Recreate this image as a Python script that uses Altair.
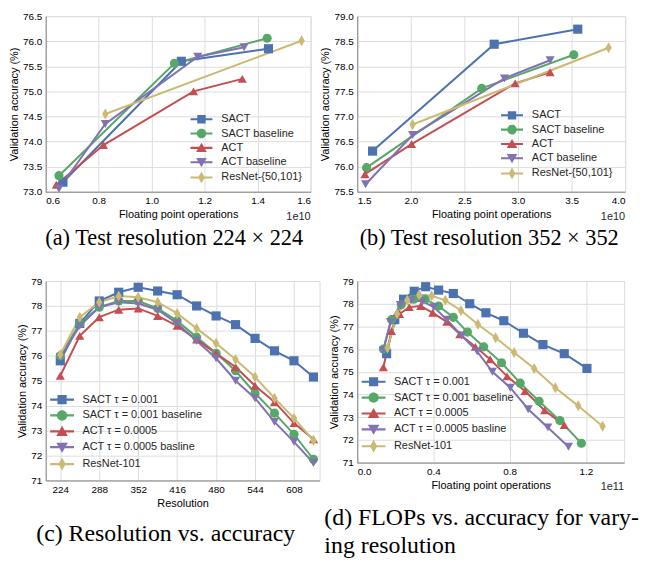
import altair as alt
import pandas as pd

# ---------------- data ----------------
SERIES_AB = ["SACT", "SACT baseline", "ACT", "ACT baseline", "ResNet-{50,101}"]
SERIES_CD = ["SACT τ = 0.001", "SACT τ = 0.001 baseline", "ACT τ = 0.0005",
             "ACT τ = 0.0005 basline", "ResNet-101"]

# (a) test resolution 224x224, FLOPs in units of 1e10
A_SACT_X = [0.665, 1.112, 1.441]
A_SACT_Y = [73.19, 75.60, 75.85]
A_SACTB_X = [0.650, 1.086, 1.436]
A_SACTB_Y = [73.32, 75.56, 76.06]
A_ACT_X = [0.640, 0.818, 1.158, 1.342]
A_ACT_Y = [73.14, 73.93, 75.00, 75.25]
A_ACTB_X = [0.650, 0.825, 1.174, 1.349]
A_ACTB_Y = [73.06, 74.35, 75.69, 75.88]
A_RES_X = [0.825, 1.566]
A_RES_Y = [74.55, 76.01]

# (b) test resolution 352x352, FLOPs in units of 1e10
B_SACT_X = [1.643, 2.778, 3.558]
B_SACT_Y = [76.31, 78.44, 78.74]
B_SACTB_X = [1.587, 2.662, 3.521]
B_SACTB_Y = [75.98, 77.56, 78.23]
B_ACT_X = [1.572, 2.007, 2.974, 3.300]
B_ACT_Y = [75.85, 76.45, 77.66, 77.88]
B_ACTB_X = [1.578, 2.017, 2.874, 3.300]
B_ACTB_Y = [75.65, 76.63, 77.76, 78.12]
B_RES_X = [2.017, 3.846]
B_RES_Y = [76.84, 78.37]

# (c) resolution vs accuracy
RESOLUTION = [224, 256, 288, 320, 352, 384, 416, 448, 480, 512, 544, 576, 608, 640]
C_SACT = [75.80, 77.30, 78.20, 78.55, 78.75, 78.60, 78.45, 78.00, 77.60, 77.25, 76.70, 76.20, 75.80, 75.15]
C_SACTB = [76.00, 77.30, 77.95, 78.20, 78.20, 77.90, 77.40, 76.75, 76.10, 75.40, 74.50, 73.70, 72.85, 71.85]
C_ACT = [75.20, 76.80, 77.55, 77.85, 77.90, 77.60, 77.20, 76.65, 76.10, 75.55, 74.80, 74.15, 73.30, 72.65]
C_ACTB = [75.95, 77.20, 77.95, 78.15, 78.10, 77.85, 77.30, 76.60, 75.90, 75.00, 74.30, 73.35, 72.55, 71.70]
C_RES = [76.05, 77.55, 78.15, 78.40, 78.35, 78.15, 77.70, 77.10, 76.50, 75.85, 75.15, 74.30, 73.50, 72.60]

# (d) FLOPs (units of 1e11) for varying resolution
D_SACT_X = [0.154, 0.197, 0.243, 0.299, 0.359, 0.427, 0.504, 0.590, 0.675, 0.769, 0.872, 0.974, 1.086, 1.205]
D_SACTB_X = [0.137, 0.180, 0.231, 0.296, 0.356, 0.427, 0.504, 0.578, 0.663, 0.757, 0.855, 0.954, 1.063, 1.176]
D_ACT_X = [0.137, 0.180, 0.222, 0.273, 0.333, 0.396, 0.470, 0.538, 0.620, 0.697, 0.786, 0.880, 0.983, 1.086]
D_ACTB_X = [0.137, 0.174, 0.226, 0.282, 0.342, 0.402, 0.470, 0.547, 0.629, 0.709, 0.803, 0.897, 1.000, 1.108]
D_RES_X = [0.159, 0.209, 0.262, 0.325, 0.390, 0.462, 0.544, 0.633, 0.726, 0.823, 0.928, 1.039, 1.159, 1.287]

# ---------------- styles ----------------
COLORS = ["#4C72B0", "#55A868", "#C44E52", "#8172B2", "#CCB974"]
DIAMOND = "M0,-1.2L0.7,0L0,1.2L-0.7,0Z"
SHAPES = ["square", "circle", "triangle-up", "triangle-down", DIAMOND]
LINE = "M-1.96,-0.18H1.96V0.18H-1.96Z"
LEG_SHAPES = [
    LINE + "M-0.75,-0.75H0.75V0.75H-0.75Z",
    LINE + "M-0.85,0A0.85,0.85 0 1,1 0.85,0A0.85,0.85 0 1,1 -0.85,0Z",
    LINE + "M0,-0.9L0.95,0.75L-0.95,0.75Z",
    LINE + "M0,0.9L-0.95,-0.75L0.95,-0.75Z",
    LINE + "M0,-1.05L0.6,0L0,1.05L-0.6,0Z",
]
TXT = "#262626"
SANS = "Liberation Sans"
SERIF = "Liberation Serif"


def panel(names, xs_list, ys_list, xdom, xticks, xfmt, ydom, yticks, yfmt,
          xtitle, w, h, leg_orient, leg_offset, leg_size, leg_rowpad, caption,
          cap_anchor="middle", cap_dx=0, cap_offset=6, cap_size=24, offset_text=None):
    rows = []
    for name, xs, ys in zip(names, xs_list, ys_list):
        for xv, yv in zip(xs, ys):
            rows.append({"series": name, "x": xv, "y": yv})
    df = pd.DataFrame(rows)
    base = alt.Chart(df)
    axis_common = dict(labelOverlap=False, titleFontWeight="normal",
                       ticks=False, tickSize=0, labelPadding=4, titlePadding=3)
    xenc = alt.X("x:Q", scale=alt.Scale(domain=xdom, nice=False, zero=False),
                 axis=alt.Axis(values=xticks, format=xfmt, title=xtitle, **axis_common))
    yenc = alt.Y("y:Q", scale=alt.Scale(domain=ydom, nice=False, zero=False),
                 axis=alt.Axis(values=yticks, format=yfmt,
                               title="Validation accuracy (%)", **axis_common))
    cscale = alt.Scale(domain=names, range=COLORS)
    lines = base.mark_line(strokeWidth=2).encode(
        x=xenc, y=yenc, color=alt.Color("series:N", scale=cscale))
    layers = [lines]
    for name, shp, col in zip(names, SHAPES, COLORS):
        layers.append(
            base.transform_filter(alt.datum.series == name)
            .mark_point(filled=True, size=85, opacity=1, shape=shp, color=col)
            .encode(x=xenc, y=yenc))
    leg = alt.Legend(title=None, orient=leg_orient, offset=leg_offset,
                     symbolSize=leg_size, rowPadding=leg_rowpad,
                     labelOffset=14, symbolStrokeWidth=0, symbolOpacity=1,
                     labelFont=SANS, labelFontSize=11, labelColor=TXT)
    legend_layer = base.transform_filter("false").mark_point(
        filled=True, size=leg_size).encode(
        x=xenc, y=yenc,
        color=alt.Color("series:N", scale=cscale, legend=leg),
        shape=alt.Shape("series:N", scale=alt.Scale(domain=names, range=LEG_SHAPES),
                        legend=leg))
    layers.append(legend_layer)
    if offset_text:
        tdf = pd.DataFrame({"t": [offset_text]})
        layers.append(alt.Chart(tdf).mark_text(
            align="right", baseline="middle", font=SANS, fontSize=11, color=TXT
        ).encode(x=alt.datum(xdom[1]), y=alt.value(h + 25), text="t:N"))
    title = alt.Title(caption, orient="bottom", anchor=cap_anchor, dx=cap_dx,
                      offset=cap_offset, font=SERIF, fontSize=cap_size,
                      fontWeight="normal", color="black", lineHeight=28)
    return alt.layer(*layers).properties(width=w, height=h, title=title)


pa = panel(SERIES_AB,
           [A_SACT_X, A_SACTB_X, A_ACT_X, A_ACTB_X, A_RES_X],
           [A_SACT_Y, A_SACTB_Y, A_ACT_Y, A_ACTB_Y, A_RES_Y],
           [0.6, 1.6], [0.6, 0.8, 1.0, 1.2, 1.4, 1.6], ".1f",
           [73.0, 76.5], [73.0, 73.5, 74.0, 74.5, 75.0, 75.5, 76.0, 76.5], ".1f",
           "Floating point operations", 267, 177, "bottom-right", 8, 127, 3.4,
           "(a) Test resolution 224 × 224", cap_dx=-4, cap_size=22.5, offset_text="1e10")
pb = panel(SERIES_AB,
           [B_SACT_X, B_SACTB_X, B_ACT_X, B_ACTB_X, B_RES_X],
           [B_SACT_Y, B_SACTB_Y, B_ACT_Y, B_ACTB_Y, B_RES_Y],
           [1.5, 4.0], [1.5, 2.0, 2.5, 3.0, 3.5, 4.0], ".1f",
           [75.5, 79.0], [75.5, 76.0, 76.5, 77.0, 77.5, 78.0, 78.5, 79.0], ".1f",
           "Floating point operations", 270, 177, "bottom-right", 12, 127, 3.4,
           "(b) Test resolution 352 × 352", cap_dx=-2, cap_size=22.5, offset_text="1e10")
pc = panel(SERIES_CD,
           [RESOLUTION] * 5,
           [C_SACT, C_SACTB, C_ACT, C_ACTB, C_RES],
           [200, 650], [224, 288, 352, 416, 480, 544, 608], "d",
           [71, 79], list(range(71, 80)), "d",
           "Resolution", 276, 201, "bottom-left", 10, 150, 4,
           "(c) Resolution vs. accuracy", cap_dx=-17, cap_offset=14)
pd_ = panel(SERIES_CD,
            [D_SACT_X, D_SACTB_X, D_ACT_X, D_ACTB_X, D_RES_X],
            [C_SACT, C_SACTB, C_ACT, C_ACTB, C_RES],
            [0.0, 1.4], [0.0, 0.2, 0.4, 0.6, 0.8, 1.0, 1.2, 1.4], ".1f",
            [71, 79], list(range(71, 80)), "d",
            "Floating point operations", 269, 183, "bottom-left", 10, 150, 4,
            ["(d) FLOPs vs. accuracy for vary-", "ing resolution"],
            cap_anchor="start", cap_dx=-4, cap_offset=14, offset_text="1e11")

chart = alt.concat(pa, pb, pc, pd_, columns=2, spacing=alt.RowColnumber(row=66, column=38)
).properties(
    bounds="flush", align="all", padding={"left": 0, "top": 0, "right": 0, "bottom": 0}
).resolve_scale(
    color="independent", shape="independent"
).resolve_legend(
    color="independent", shape="independent"
).configure_view(
    stroke="#CCCCCC", strokeWidth=1.25
).configure_axis(
    domain=False, grid=True, gridColor="#D5D5D5", gridWidth=1,
    labelFont=SANS, labelFontSize=11, labelColor=TXT,
    titleFont=SANS, titleFontSize=12, titleColor=TXT, titleFontWeight="normal"
).configure(background="white")

chart.save("out.html", embed_options={"renderer": "svg", "actions": False})
